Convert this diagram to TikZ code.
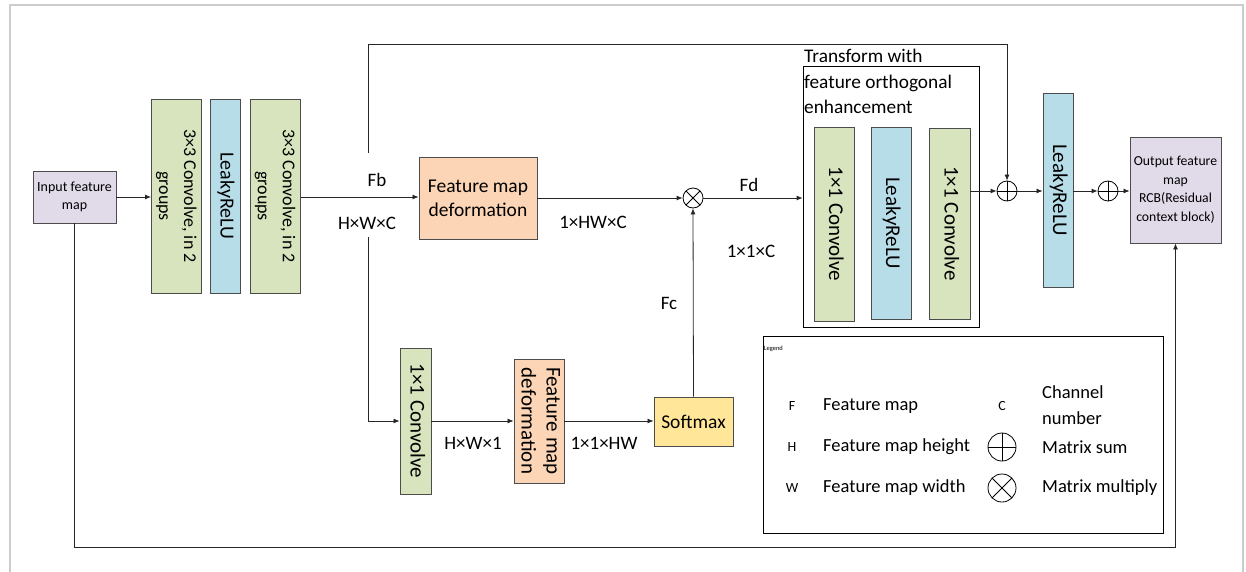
\documentclass[tikz,border=0pt]{standalone}
\usepackage{fontspec}
\setmainfont{Carlito}
\usetikzlibrary{positioning}
\usetikzlibrary{arrows.meta}
\usetikzlibrary{calc}

\definecolor{convgreen}{HTML}{D7E4BD}
\definecolor{relublue}{HTML}{B7DDE8}
\definecolor{deforange}{HTML}{FBD5B5}
\definecolor{mappurple}{HTML}{E1DAE9}
\definecolor{softyellow}{HTML}{FFE699}

\newcommand{\setfs}[2]{\fontsize{#1}{#2}\selectfont}
% text turned to read downwards inside the tall blocks
\newcommand{\vlabel}[1]{\rotatebox{-90}{\begin{tabular}{@{}c@{}}#1\end{tabular}}}

\tikzset{
  block/.style={draw=black!70, line width=0.9pt, inner sep=0pt, align=center},
  conv/.style={block, fill=convgreen},
  relu/.style={block, fill=relublue},
  deform/.style={block, fill=deforange},
  fmap/.style={block, fill=mappurple},
  lbl/.style={inner sep=0pt, font=\setfs{19}{23}},
  opnode/.style={circle, draw, line width=0.8pt, minimum size=20pt, inner sep=0pt},
  sumop/.style={opnode, path picture={
      \draw (path picture bounding box.north) -- (path picture bounding box.south)
            (path picture bounding box.west) -- (path picture bounding box.east);}},
  mulop/.style={opnode, path picture={
      \draw (path picture bounding box.north west) -- (path picture bounding box.south east)
            (path picture bounding box.north east) -- (path picture bounding box.south west);}},
  wire/.style={line width=0.8pt, draw=black!85},
  arr/.style={wire, -{Latex[length=6pt,width=5pt]}}
}

\begin{document}
\begin{tikzpicture}[x=1pt, y=-1pt]
  \useasboundingbox (0,0) rectangle (1246,572);
  \draw[black!20, line width=1.4pt] (10,575) -- (10,5) -- (1243,5) -- (1243,575);

  % input and first convolution stage
  \node[fmap, minimum width=83, minimum height=52, font=\setfs{14}{18}] (inmap) at (74.5,197) {Input feature\\map};
  \node[conv, minimum width=49, minimum height=194, font=\setfs{18}{25}] (conv1) at (176.5,196) {\vlabel{3×3 Convolve, in 2\\groups}};
  \node[relu, minimum width=30, minimum height=194, right=8pt of conv1, font=\setfs{20}{24}] (relu1) {\vlabel{LeakyReLU}};
  \node[conv, minimum width=49, minimum height=194, right=9pt of relu1, font=\setfs{18}{25}] (conv2) {\vlabel{3×3 Convolve, in 2\\groups}};

  \node[lbl] (fb) at (377,180) {Fb};
  \node[lbl] (hwc) at (367,223) {H×W×C};
  \coordinate (fbup) at (368,153);
  \coordinate (fbdown) at (368,237);

  % upper branch
  \node[deform, minimum width=118, minimum height=82, font=\setfs{19.5}{24}] (deform1) at (478,198) {Feature map\\deformation};
  \node[lbl] (hwlbl) at (593,222) {1×HW×C};
  \node[mulop] (mul) at (693,198) {};
  \node[lbl] (fd) at (749,185) {Fd};
  \node[lbl] (oneone) at (751,251) {1×1×C};
  \node[lbl] (fc) at (669,303) {Fc};

  % transform block
  \node[draw, line width=0.8pt, minimum width=176, minimum height=261, inner sep=0pt] (tfbox) at (891,196.5) {};
  \node[anchor=north west, inner sep=0pt, align=left, font=\setfs{19.3}{25.5}] (tftitle) at (804,49) {Transform with\\feature orthogonal\\enhancement};
  \node[conv, minimum width=40, minimum height=194, font=\setfs{21}{25}] (conva) at (834,224) {\vlabel{1×1 Convolve}};
  \node[relu, minimum width=40, minimum height=192, font=\setfs{21}{25}] (relu2) at (891,223) {\vlabel{LeakyReLU}};
  \node[conv, minimum width=41, minimum height=191, font=\setfs{21}{25}] (convb) at (949.5,223.5) {\vlabel{1×1 Convolve}};

  % residual sum and output
  \node[sumop] (sum1) at (1007,191) {};
  \node[relu, minimum width=30, minimum height=194, font=\setfs{21}{25}] (relu3) at (1058,190) {\vlabel{LeakyReLU}};
  \node[sumop] (sum2) at (1108,191) {};
  \node[fmap, minimum width=91, minimum height=106, font=\setfs{13.7}{18.5}] (outmap) at (1175.5,190) {Output feature\\map\\RCB(Residual\\context block)};

  % lower branch
  \node[conv, minimum width=31, minimum height=146, font=\setfs{21}{25}] (conv3) at (415.5,421) {\vlabel{1×1 Convolve}};
  \node[lbl] (hw1) at (473,443) {H×W×1};
  \node[deform, minimum width=44, minimum height=124, font=\setfs{21}{25}] (deform2) at (539,421) {\vlabel{Feature map\\deformation}};
  \node[lbl] (oohw) at (604,443) {1×1×HW};
  \node[block, fill=softyellow, minimum width=79, minimum height=49, font=\setfs{19.5}{24}] (softmax) at (693.5,421.5) {Softmax};

  % connections
  \draw[arr] (inmap.east) -- (inmap.east -| conv1.west);
  \draw[arr] (inmap.east -| conv2.east) -- (inmap.east -| deform1.west);
  \draw[arr] (fbup) -- ++(0,-109) -| (sum1.north);
  \draw[arr] (fbdown) |- (conv3.west);
  \draw[arr] (deform1.east) -- (mul.west);
  \draw[arr] (mul.east) -- (mul.east -| tfbox.west);
  \draw[arr] (sum1.west -| convb.east) -- (sum1.west);
  \draw[arr] (sum1.east) -- (sum1.east -| relu3.west);
  \draw[arr] (sum2.west -| relu3.east) -- (sum2.west);
  \draw[arr] (sum2.east) -- (sum2.east -| outmap.west);
  \draw[arr] (conv3.east) -- (deform2.west);
  \draw[arr] (deform2.east) -- (deform2.east -| softmax.west);
  \draw[arr] (softmax.north) -- (mul.south);
  \draw[arr] (inmap.south) -- ++(0,324) -| (outmap.south);

  % legend
  \node[draw, line width=0.8pt, minimum width=400, minimum height=197, inner sep=0pt] (legend) at (963,434.5) {};
  \node[anchor=west, inner sep=1pt, font=\setfs{6.5}{7}] (legtitle) at ($(legend.north west)+(0,13)$) {Legend};
  \foreach \sym/\txt/\yy in {F/Feature map/406, H/Feature map height/447, W/Feature map width/488}
    {\node[font=\setfs{14}{16}] (sym\sym) at (792,\yy) {\sym};
     \node[anchor=west, inner sep=0pt, font=\setfs{18.5}{22}] (txt\sym) at (823,\yy) {\txt};}
  \node[font=\setfs{14}{16}] (symC) at (1002,406) {C};
  \node[anchor=west, inner sep=0pt, align=left, font=\setfs{18.5}{26}] (txtC) at (1042,405) {Channel\\number};
  \node[sumop, minimum size=28pt] (legsum) at (1002,447) {};
  \node[anchor=west, inner sep=0pt, font=\setfs{18.5}{22}] (txtsum) at (1042,447) {Matrix sum};
  \node[mulop, minimum size=28pt] (legmul) at (1002,488) {};
  \node[anchor=west, inner sep=0pt, font=\setfs{18.5}{22}] (txtmul) at (1042,488) {Matrix multiply};
\end{tikzpicture}
\end{document}
